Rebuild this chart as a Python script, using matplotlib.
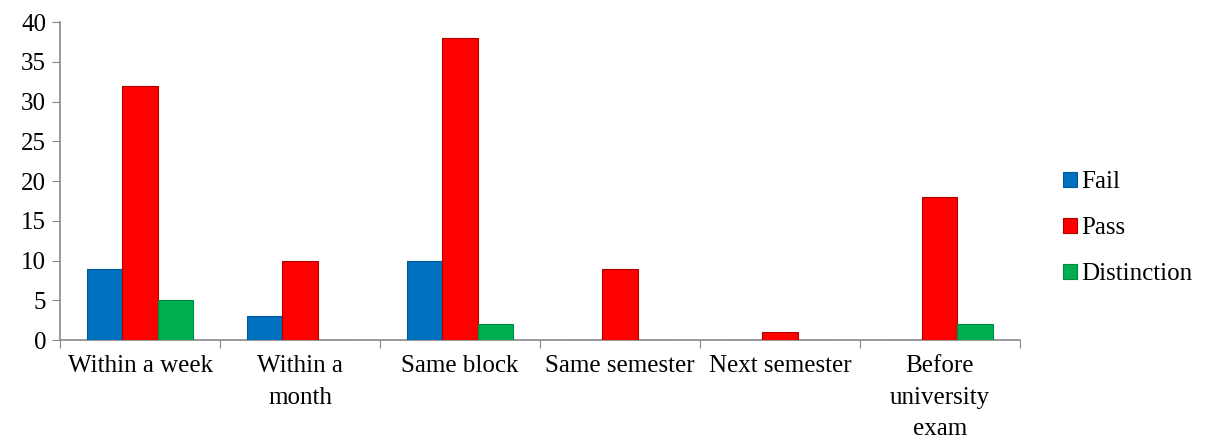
import numpy as np
import matplotlib.pyplot as plt

# ---- data ----
categories = ["Within a week", "Within a\nmonth", "Same block", "Same semester",
              "Next semester", "Before\nuniversity\nexam"]
fail = [9, 3, 10, 0, 0, 0]
passed = [32, 10, 38, 9, 1, 18]
distinction = [5, 0, 2, 0, 0, 2]

series = [("Fail", fail, "#0070C0", "#005a9a"),
          ("Pass", passed, "#FF0000", "#b00000"),
          ("Distinction", distinction, "#00B050", "#008a3e")]

plt.rcParams["font.family"] = ["Liberation Serif", "DejaVu Serif"]

fig = plt.figure(figsize=(12.15, 4.44), dpi=100)
ax = fig.add_axes([0.0494, 0.234, 0.790, 0.716])

x = np.arange(len(categories))
w = 0.22
for i, (name, vals, col, edge) in enumerate(series):
    ax.bar(x + (i - 1) * w, vals, w, color=col, edgecolor=edge, linewidth=0.8,
           label=name, zorder=3)

ax.set_xlim(-0.5, len(categories) - 0.5)
ax.set_ylim(0, 40)
ax.set_yticks(range(0, 41, 5))

# category boundaries as tick marks, labels at centers
ax.set_xticks(np.arange(-0.5, len(categories)), minor=False)
ax.set_xticklabels([])
ax.set_xticks(x, minor=True)
ax.set_xticklabels(categories, minor=True, linespacing=1.55)
ax.tick_params(axis="x", which="major", length=6, color="#888888")
ax.tick_params(axis="x", which="minor", length=0, pad=11, labelsize=18)
ax.tick_params(axis="y", length=6, color="#888888", labelsize=18, pad=4)

for s in ["top", "right"]:
    ax.spines[s].set_visible(False)
for s in ["left", "bottom"]:
    ax.spines[s].set_color("#888888")
    ax.spines[s].set_linewidth(1.2)

ax.legend(loc="center left", bbox_to_anchor=(1.035, 0.352), frameon=False,
          fontsize=18, handlelength=0.55, handleheight=0.55, handletextpad=0.15,
          labelspacing=0.95, borderaxespad=0)

fig.savefig("out.png", dpi=100)
